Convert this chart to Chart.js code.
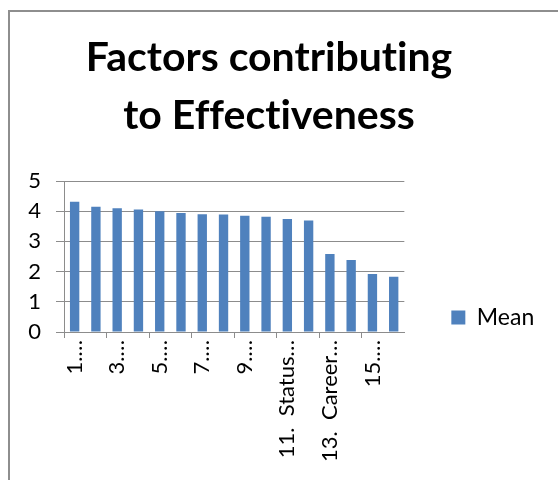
<!DOCTYPE html>
<html>
<head>
<meta charset="utf-8">
<script src="https://cdn.jsdelivr.net/npm/chart.js@4"></script>
<style>
  html, body { margin: 0; padding: 0; background: #fff; }
  body { width: 558px; height: 480px; position: relative; overflow: hidden; }
  #frame { position: absolute; left: 8px; top: 10px; width: 620px; height: 560px; border: 2px solid #8e8e8e; box-sizing: border-box; }
  #chart { position: absolute; left: 0; top: 0; }
</style>
</head>
<body>
<div id="frame"></div>
<canvas id="chart" width="542" height="480"></canvas>
<script>
// Factor labels as shown on the category axis (Excel-style truncated text)
const categories = [
  "1.\u2026", "2.\u2026", "3.\u2026", "4.\u2026", "5.\u2026", "6.\u2026", "7.\u2026", "8.\u2026",
  "9.\u2026", "10.\u2026", "11.  Status\u2026", "12.\u2026", "13.  Career\u2026", "14.\u2026", "15.\u2026", "16.\u2026"
];
// Mean score per factor
const meanValues = [4.31, 4.15, 4.10, 4.06, 4.00, 3.94, 3.90, 3.89, 3.85, 3.82, 3.74, 3.69, 2.58, 2.38, 1.92, 1.83];
const seriesName = "Mean";
const titleLines = ["Factors contributing", "to Effectiveness"];
const yTicks = [0, 1, 2, 3, 4, 5];

const GRID = '#8c8c8c';
const BAR = '#4f81bd';

// Plain glyphs, no ligatures (e.g. "ti", "ff") in canvas text
const plainText = {
  id: 'plainText',
  beforeDraw(chart) { chart.ctx.textRendering = 'optimizeSpeed'; }
};

new Chart(document.getElementById('chart'), {
  type: 'bar',
  plugins: [plainText],
  data: {
    labels: categories,
    datasets: [{
      label: seriesName,
      data: meanValues,
      backgroundColor: BAR,
      borderWidth: 0,
      barPercentage: 0.44,
      categoryPercentage: 1.0
    }]
  },
  options: {
    responsive: false,
    animation: false,
    devicePixelRatio: 1,
    layout: { padding: { left: 0, right: 4, top: 0, bottom: 0 } },
    plugins: {
      title: {
        display: true,
        text: titleLines,
        color: '#000',
        font: { family: 'Lato', weight: 'bold', size: 41, lineHeight: '58px' },
        padding: { top: 29, bottom: 36 }
      },
      legend: {
        position: 'right',
        align: 'end',
        fullSize: false,
        labels: {
          color: '#000',
          font: { family: 'Lato', size: 23 },
          boxWidth: 14,
          boxHeight: 14,
          padding: 3
        }
      },
      tooltip: { enabled: false }
    },
    scales: {
      x: {
        offset: true,
        grid: {
          display: true,
          offset: true,
          drawOnChartArea: false,
          drawTicks: true,
          tickLength: 6,
          tickColor: (ctx) => (ctx.index % 2 === 0 ? GRID : 'rgba(0,0,0,0)')
        },
        border: { display: true, color: GRID },
        ticks: {
          autoSkip: false,
          minRotation: 90,
          maxRotation: 90,
          padding: 2,
          color: '#000',
          font: { family: 'Lato', size: 22 },
          callback: function (value, index) {
            return index % 2 === 0 ? this.getLabelForValue(value) : '';
          }
        },
        afterFit: (scale) => { scale.height = 148; }
      },
      y: {
        min: 0,
        max: 5,
        afterBuildTicks: (scale) => { scale.ticks = yTicks.map(v => ({ value: v })); },
        grid: { color: GRID, lineWidth: 1, tickLength: 8, tickColor: GRID },
        border: { display: true, color: GRID },
        ticks: {
          padding: 15,
          color: '#000',
          font: { family: 'Lato', size: 22 }
        },
        afterFit: (scale) => { scale.width = 64; }
      },
      gap: {
        type: 'linear',
        position: 'right',
        display: true,
        grid: { display: false },
        border: { display: false },
        ticks: { display: false },
        afterFit: (scale) => { scale.width = 44; }
      }
    }
  }
});
</script>
</body>
</html>
